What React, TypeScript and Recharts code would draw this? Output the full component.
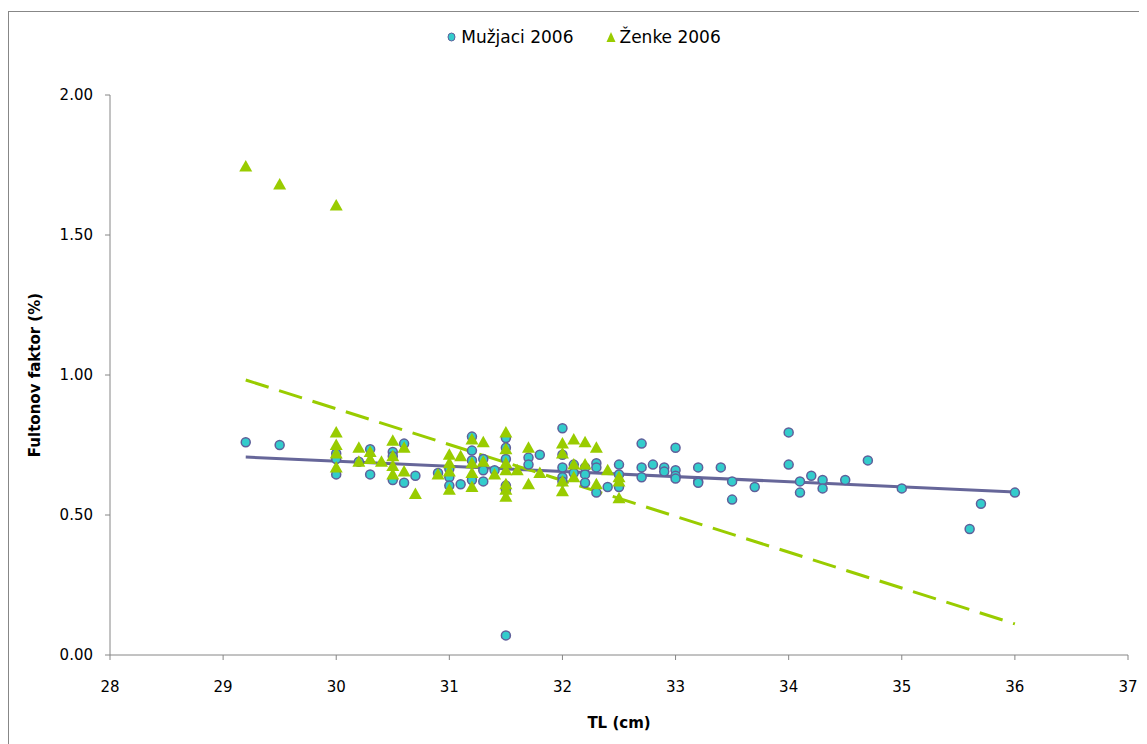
import { ScatterChart, Scatter, XAxis, YAxis, Label } from 'recharts'

// Mužjaci 2006 (males): TL (cm) and Fulton's factor
const maleTL = [
  29.2, 29.5, 30.0, 30.0, 30.0, 30.2, 30.3, 30.3, 30.5, 30.5, 30.5, 30.6, 30.6, 30.7, 30.9,
  31.0, 31.0, 31.0, 31.1, 31.2, 31.2, 31.2, 31.2, 31.3, 31.3, 31.3, 31.4,
  31.5, 31.5, 31.5, 31.5, 31.5, 31.5, 31.7, 31.7, 31.8,
  32.0, 32.0, 32.0, 32.0, 32.0, 32.1, 32.1, 32.2, 32.2, 32.2, 32.3, 32.3, 32.3, 32.4,
  32.5, 32.5, 32.5, 32.7, 32.7, 32.7, 32.8, 32.9, 32.9, 33.0, 33.0, 33.0, 33.0,
  33.2, 33.2, 33.2, 33.4, 33.5, 33.5, 33.7, 34.0, 34.0, 34.1, 34.1, 34.2, 34.3, 34.3,
  34.5, 34.7, 35.0, 35.6, 35.7, 36.0,
]
const maleK = [
  0.76, 0.75, 0.72, 0.70, 0.645, 0.69, 0.735, 0.645, 0.725, 0.71, 0.625, 0.755, 0.615, 0.64, 0.65,
  0.665, 0.635, 0.605, 0.61, 0.78, 0.73, 0.695, 0.625, 0.70, 0.66, 0.62, 0.66,
  0.775, 0.74, 0.70, 0.605, 0.59, 0.07, 0.705, 0.68, 0.715,
  0.81, 0.715, 0.67, 0.635, 0.62, 0.68, 0.65, 0.67, 0.645, 0.615, 0.685, 0.67, 0.58, 0.60,
  0.68, 0.645, 0.60, 0.755, 0.67, 0.635, 0.68, 0.67, 0.655, 0.74, 0.66, 0.64, 0.63,
  0.67, 0.62, 0.615, 0.67, 0.62, 0.555, 0.60, 0.795, 0.68, 0.62, 0.58, 0.64, 0.625, 0.595,
  0.625, 0.695, 0.595, 0.45, 0.54, 0.58,
]

// Ženke 2006 (females)
const femaleTL = [
  29.2, 29.5, 30.0, 30.0, 30.0, 30.0, 30.0, 30.2, 30.2, 30.3, 30.3, 30.4,
  30.5, 30.5, 30.5, 30.5, 30.6, 30.6, 30.7, 30.9, 31.0, 31.0, 31.0, 31.0, 31.1,
  31.2, 31.2, 31.2, 31.2, 31.3, 31.3, 31.4,
  31.5, 31.5, 31.5, 31.5, 31.5, 31.5, 31.5, 31.6, 31.7, 31.7, 31.8,
  32.0, 32.0, 32.0, 32.0, 32.1, 32.1, 32.1, 32.2, 32.2, 32.3, 32.3, 32.4, 32.5, 32.5, 32.5,
]
const femaleK = [
  1.745, 1.68, 1.605, 0.795, 0.75, 0.72, 0.67, 0.74, 0.69, 0.725, 0.70, 0.69,
  0.765, 0.71, 0.675, 0.645, 0.74, 0.655, 0.575, 0.645, 0.715, 0.685, 0.655, 0.59, 0.71,
  0.77, 0.685, 0.65, 0.60, 0.76, 0.69, 0.645,
  0.795, 0.735, 0.685, 0.66, 0.61, 0.59, 0.565, 0.66, 0.74, 0.61, 0.65,
  0.755, 0.72, 0.62, 0.585, 0.77, 0.68, 0.635, 0.76, 0.68, 0.74, 0.61, 0.66, 0.635, 0.62, 0.56,
]

// linear trendlines, end points
const trendTL = [29.2, 36.0]
const maleTrendK = [0.707, 0.582]
const femaleTrendK = [0.982, 0.111]

const xTicks = [28, 29, 30, 31, 32, 33, 34, 35, 36, 37]
const yTicks = [0, 0.5, 1, 1.5, 2]

const zip = (xs: number[], ys: number[]) => xs.map((x, i) => ({ x, y: ys[i] }))

const FONT = '"DejaVu Sans", sans-serif'
const AXIS = '#868686'
const TEAL = '#33CCCC'
const RING = '#5F5F9A'
const GREEN = '#99CC00'
const PURPLE = '#666699'

function Dot(props: any) {
  const { cx, cy } = props
  if (cx == null || cy == null) return <g />
  return <circle cx={cx} cy={cy} r={4.5} fill={TEAL} stroke={RING} strokeWidth={1.5} />
}

function Tri(props: any) {
  const { cx, cy } = props
  if (cx == null || cy == null) return <g />
  return <polygon points={`${cx},${cy - 6.5} ${cx + 6.5},${cy + 5} ${cx - 6.5},${cy + 5}`} fill={GREEN} />
}

function YTitle(props: any) {
  const { viewBox } = props
  const cx = 26
  const cy = viewBox.y + viewBox.height / 2
  return (
    <text x={cx} y={cy} transform={`rotate(-90 ${cx} ${cy})`} textAnchor="middle" dominantBaseline="central"
      fontFamily={FONT} fontSize={15} fontWeight="bold" fill="#000">
      Fultonov faktor (%)
    </text>
  )
}

export default function App() {
  const males = zip(maleTL, maleK)
  const females = zip(femaleTL, femaleK)
  const maleTrend = zip(trendTL, maleTrendK)
  const femaleTrend = zip(trendTL, femaleTrendK)

  return (
    <div style={{ marginTop: 3, width: 1150, height: 740, border: '1px solid #878787', position: 'relative' }}>
      <div style={{
        position: 'absolute', top: 14, left: 0, width: 1150, height: 22, display: 'flex',
        justifyContent: 'center', alignItems: 'center', fontFamily: FONT, fontSize: 17, color: '#000', gap: 32,
      }}>
        <span style={{ display: 'flex', alignItems: 'center', gap: 5 }}>
          <svg width={9} height={10}><ellipse cx={4.5} cy={5} rx={3.5} ry={4} fill={TEAL} stroke={RING} strokeWidth={1} /></svg>
          Mužjaci 2006
        </span>
        <span style={{ display: 'flex', alignItems: 'center', gap: 4 }}>
          <svg width={10} height={12}><polygon points="5,1 9.5,11 0.5,11" fill={GREEN} /></svg>
          Ženke 2006
        </span>
      </div>
      <ScatterChart width={1150} height={740} margin={{ top: 83, right: 31, bottom: 0, left: 0 }}>
        <XAxis type="number" dataKey="x" domain={[28, 37]} ticks={xTicks} stroke={AXIS}
          tickSize={5} tickMargin={21} tick={{ fill: '#000', fontSize: 15, fontFamily: FONT }} height={97}>
          <Label value="TL (cm)" position="insideBottom" offset={24} fill="#000" fontSize={15}
            fontWeight="bold" fontFamily={FONT} />
        </XAxis>
        <YAxis type="number" dataKey="y" domain={[0, 2]} ticks={yTicks} stroke={AXIS} width={101}
          tickSize={5} tickMargin={12} tickFormatter={(v: number) => v.toFixed(2)}
          tick={{ fill: '#000', fontSize: 15, fontFamily: FONT }}>
          <Label content={<YTitle />} />
        </YAxis>
        <Scatter name="trend m" data={maleTrend} line={{ stroke: PURPLE, strokeWidth: 3 }} shape={() => <g />}
          isAnimationActive={false} legendType="none" />
        <Scatter name="trend f" data={femaleTrend} line={{ stroke: GREEN, strokeWidth: 3, strokeDasharray: '24 11' }}
          shape={() => <g />} isAnimationActive={false} legendType="none" />
        <Scatter name="Mužjaci 2006" data={males} shape={<Dot />} isAnimationActive={false} />
        <Scatter name="Ženke 2006" data={females} shape={<Tri />} isAnimationActive={false} />
      </ScatterChart>
    </div>
  )
}
